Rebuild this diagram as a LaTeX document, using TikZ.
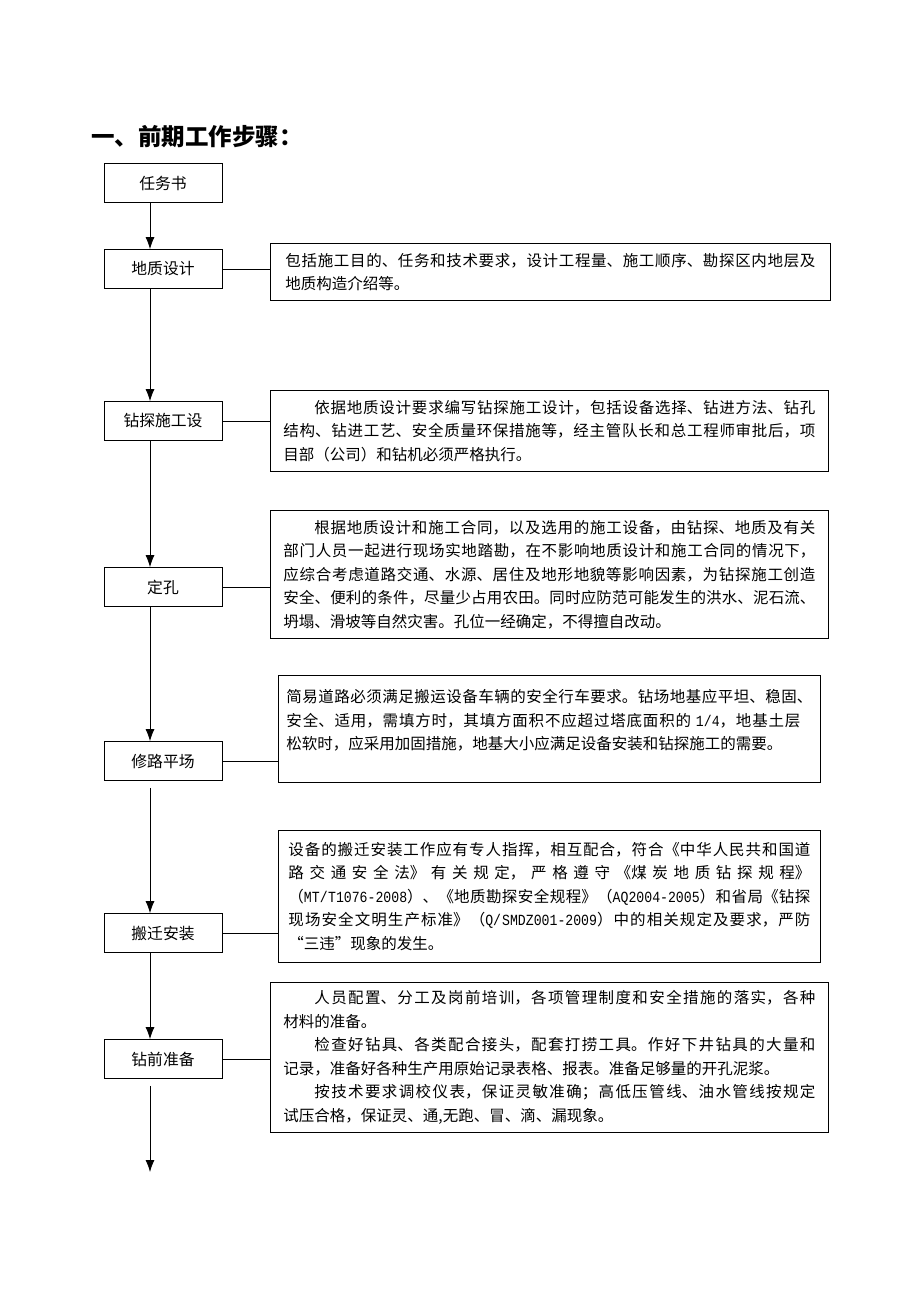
\documentclass[tikz,border=0pt]{standalone}
\usepackage{fontspec}
\setmainfont{Noto Sans CJK SC}
\newfontfamily\lat[FakeStretch = 0.85]{Liberation Mono}
\XeTeXlinebreaklocale "zh"
\XeTeXlinebreakskip = 0pt plus 1pt
\tolerance = 10000
\usetikzlibrary{arrows.meta}

\tikzset{
	stepbox/.style = {draw, line width = 0.8pt, minimum width = 118pt, minimum height = 39pt,
		inner sep = 0pt, font = \fontsize{15.8}{20}\selectfont},
	notebox/.style = {draw, line width = 0.9pt, anchor = north west, align = justify,
		inner ysep = 0pt, font = \fontsize{15.5}{23.5}\selectfont},
}

\begin{document}

\begin{tikzpicture}[x = 1pt, y = -1pt, > = {Latex[length = 12pt, width = 9pt]}, line width = 0.8pt]

	% Page
	
	\useasboundingbox (0, 0) rectangle (920, 1302);
	
	% Offset of the arrows from the box centres
	
	\def\ax{-13pt}
	
	% Title
	
	\node [anchor = west, inner sep = 0pt, font = \fontsize{23.5}{28}\selectfont\bfseries] (title) at (91, 137) {一、前期工作步骤：};
	
	% Steps
	
	\node [stepbox] (s1) at (163, 183) {任务书};
	\node [stepbox] (s2) at (163, 269) {地质设计};
	\node [stepbox] (s3) at (163, 421) {钻探施工设};
	\node [stepbox] (s4) at (163, 587) {定孔};
	\node [stepbox] (s5) at (163, 761) {修路平场};
	\node [stepbox] (s6) at (163, 933) {搬迁安装};
	\node [stepbox] (s7) at (163, 1059) {钻前准备};
	
	\coordinate (end) at (150, 1172);
	
	% Notes
	
	\node [notebox, minimum height = 57pt, inner xsep = 15pt, text width = 530pt] (n2) at (270, 243) {%
		包括施工目的、任务和技术要求，设计工程量、施工顺序、勘探区内地层及\linebreak
		地质构造介绍等。};
	
	\node [notebox, minimum height = 81pt, inner xsep = 13pt, text width = 532pt] (n3) at (270, 390) {%
		\hspace*{2em}依据地质设计要求编写钻探施工设计，包括设备选择、钻进方法、钻孔\linebreak
		结构、钻进工艺、安全质量环保措施等，经主管队长和总工程师审批后，项\linebreak
		目部（公司）和钻机必须严格执行。};
	
	\node [notebox, minimum height = 128pt, inner xsep = 13pt, text width = 532pt] (n4) at (270, 510) {%
		\hspace*{2em}根据地质设计和施工合同，以及选用的施工设备，由钻探、地质及有关\linebreak
		部门人员一起进行现场实地踏勘，在不影响地质设计和施工合同的情况下，\linebreak
		应综合考虑道路交通、水源、居住及地形地貌等影响因素，为钻探施工创造\linebreak
		安全、便利的条件，尽量少占用农田。同时应防范可能发生的洪水、泥石流、\linebreak
		坍塌、滑坡等自然灾害。孔位一经确定，不得擅自改动。};
	
	\node [notebox, minimum height = 107pt, inner xsep = 8pt, text width = 526pt] (n5) at (278, 675) {%
		简易道路必须满足搬运设备车辆的安全行车要求。钻场地基应平坦、稳固、\linebreak
		安全、适用，需填方时，其填方面积不应超过塔底面积的 {\lat 1/4}，地基土层\hspace*{12pt}\linebreak
		松软时，应采用加固措施，地基大小应满足设备安装和钻探施工的需要。\rule[-19pt]{0pt}{19pt}};
	
	\node [notebox, minimum height = 132pt, inner xsep = 10pt, text width = 522pt] (n6) at (278, 830) {%
		设备的搬迁安装工作应有专人指挥，相互配合，符合《中华人民共和国道\linebreak
		路交通安全法》有关规定，严格遵守《煤炭地质钻探规程》\linebreak
		（{\lat MT/T1076-2008}）、《地质勘探安全规程》（{\lat AQ2004-2005}）和省局《钻探\linebreak
		现场安全文明生产标准》（{\lat Q/SMDZ001-2009}）中的相关规定及要求，严防\linebreak
		“三违”现象的发生。};
	
	\node [notebox, minimum height = 150pt, inner xsep = 13pt, text width = 532pt] (n7) at (270, 982) {%
		\hspace*{2em}人员配置、分工及岗前培训，各项管理制度和安全措施的落实，各种\linebreak
		材料的准备。\par
		\hspace*{2em}检查好钻具、各类配合接头，配套打捞工具。作好下井钻具的大量和\linebreak
		记录，准备好各种生产用原始记录表格、报表。准备足够量的开孔泥浆。\par
		\hspace*{2em}按技术要求调校仪表，保证灵敏准确；高低压管线、油水管线按规定\linebreak
		试压合格，保证灵、通,无跑、冒、滴、漏现象。};
	
	% Arrows between the steps
	
	\draw [->] ([xshift = \ax] s1.south) -- ([xshift = \ax] s2.north);
	\draw [->] ([xshift = \ax] s2.south) -- ([xshift = \ax] s3.north);
	\draw [->] ([xshift = \ax] s3.south) -- ([xshift = \ax] s4.north);
	\draw [->] ([xshift = \ax] s4.south) -- ([xshift = \ax] s5.north);
	\draw [->] ([xshift = \ax, yshift = -7pt] s5.south) -- ([xshift = \ax] s6.north);
	\draw [->] ([xshift = \ax] s6.south) -- ([xshift = \ax] s7.north);
	\draw [->] ([xshift = \ax, yshift = -7pt] s7.south) -- (end);
	
	% Links to the notes
	
	\foreach \i in {2, ..., 7}
		\draw (s\i.east) -- (s\i.east -| n\i.west);

\end{tikzpicture}

\end{document}
